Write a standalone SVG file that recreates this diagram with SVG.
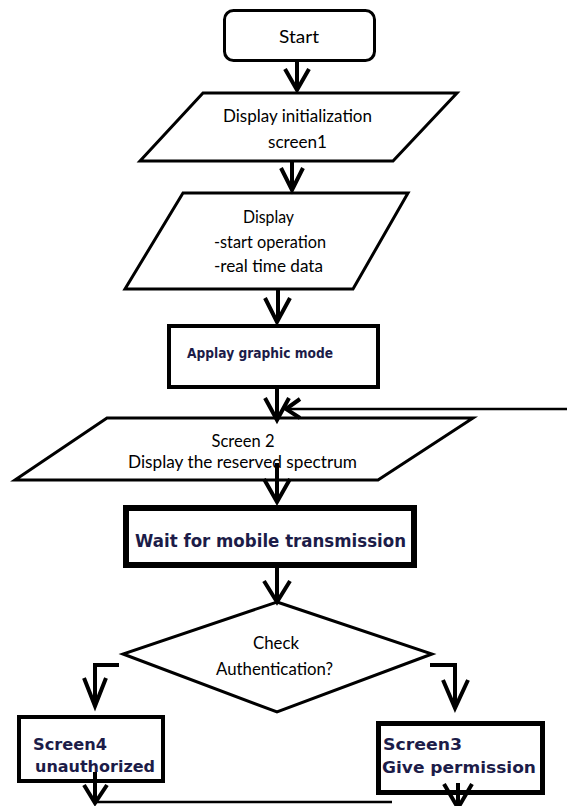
<svg xmlns="http://www.w3.org/2000/svg" width="567" height="806" viewBox="0 0 567 806">
<style>
.box{fill:#fff;stroke:#000;stroke-linejoin:miter}
.t{font-family:Lato,"Open Sans","Liberation Sans",sans-serif;font-size:17px;fill:#000;text-anchor:middle}
.b{font-family:"DejaVu Sans",Verdana,sans-serif;font-weight:bold;fill:#1c1c48}
.arr{fill:none;stroke:#000;stroke-width:4;stroke-linejoin:miter;stroke-linecap:butt}
.thin{fill:none;stroke:#000;stroke-width:2.5}
</style>
<rect width="567" height="806" fill="#fff"/>
<g id="start">
<rect class="box" x="224.5" y="10.5" width="150" height="50" rx="9" stroke-width="3"/>
<text class="t" x="299" y="43" textLength="40" lengthAdjust="spacingAndGlyphs">Start</text>
</g>
<g id="init">
<polygon class="box" points="203,93 457,93 393,161 140,161" stroke-width="3"/>
<text class="t" x="297.5" y="122" textLength="149" lengthAdjust="spacingAndGlyphs">Display initialization</text>
<text class="t" x="297.5" y="148" textLength="59" lengthAdjust="spacingAndGlyphs">screen1</text>
</g>
<g id="display">
<polygon class="box" points="183,193 408,193 353,289 125,289" stroke-width="3"/>
<text class="t" x="268.5" y="223" textLength="51" lengthAdjust="spacingAndGlyphs">Display</text>
<text class="t" x="270" y="248" textLength="112" lengthAdjust="spacingAndGlyphs">-start operation</text>
<text class="t" x="268.5" y="272" textLength="109" lengthAdjust="spacingAndGlyphs">-real time data</text>
</g>
<g id="graphic">
<rect class="box" x="169" y="326" width="209" height="61" stroke-width="4"/>
<text class="b" x="187" y="358" font-size="14" textLength="146" lengthAdjust="spacingAndGlyphs">Applay graphic mode</text>
</g>
<g id="screen2">
<polygon class="box" points="107,418 473,418 378,480 15,480" stroke-width="3"/>
<text class="t" x="243" y="447" textLength="63" lengthAdjust="spacingAndGlyphs">Screen 2</text>
<text class="t" x="242.5" y="468" textLength="229" lengthAdjust="spacingAndGlyphs">Display the reserved spectrum</text>
</g>
<g id="wait">
<rect class="box" x="126" y="508" width="288" height="57" stroke-width="6"/>
<text class="b" x="135" y="547" font-size="17" textLength="271" lengthAdjust="spacingAndGlyphs">Wait for mobile transmission</text>
</g>
<g id="check">
<polygon class="box" points="277,602 432,654 277,712 123,654" stroke-width="3"/>
<text class="t" x="276" y="649" textLength="46" lengthAdjust="spacingAndGlyphs">Check</text>
<text class="t" x="274.5" y="675" textLength="117" lengthAdjust="spacingAndGlyphs">Authentication?</text>
</g>
<g id="screen4">
<rect class="box" x="19" y="717" width="144" height="64" stroke-width="4"/>
<text class="b" x="33" y="750" font-size="15" textLength="74" lengthAdjust="spacingAndGlyphs">Screen4</text>
<text class="b" x="35" y="772" font-size="15" textLength="120" lengthAdjust="spacingAndGlyphs">unauthorized</text>
</g>
<g id="screen3">
<rect class="box" x="378.5" y="723.5" width="164" height="69" stroke-width="5"/>
<text class="b" x="383" y="750" font-size="15" textLength="79" lengthAdjust="spacingAndGlyphs">Screen3</text>
<text class="b" x="382" y="773" font-size="15" textLength="154" lengthAdjust="spacingAndGlyphs">Give permission</text>
</g>
<g id="connectors">
<path class="arr" d="M297,62 V88 M285,69 L297,90 L309,69"/>
<path class="arr" d="M292,161 V188 M281,168 L292,190 L303,168"/>
<path class="arr" d="M278,289 V320 M265,298 L277,322 L290,298"/>
<path class="arr" d="M277,389 V418 M265,398 L277,420 L289,398"/>
<path class="thin" d="M567,409 H287"/>
<path class="arr" d="M300,399 L286,409 L300,418"/>
<path class="arr" d="M277,463 V500 M264,479 L277,502 L290,479"/>
<path class="arr" d="M277,568 V600 M264,581 L277,602 L290,581"/>
<path class="arr" d="M119,665 H95 V704 M84,678 L95,706 L106,678"/>
<path class="arr" d="M430,665 H455 V706 M443,680 L455,708 L468,680"/>
<path class="arr" d="M95,772 V801 M84,785 L95,803 L107,785"/>
<path class="thin" d="M95,802 H392"/>
<path class="arr" d="M458,783 V806 M444,784 L458,808 L472,784"/>
</g>
</svg>
